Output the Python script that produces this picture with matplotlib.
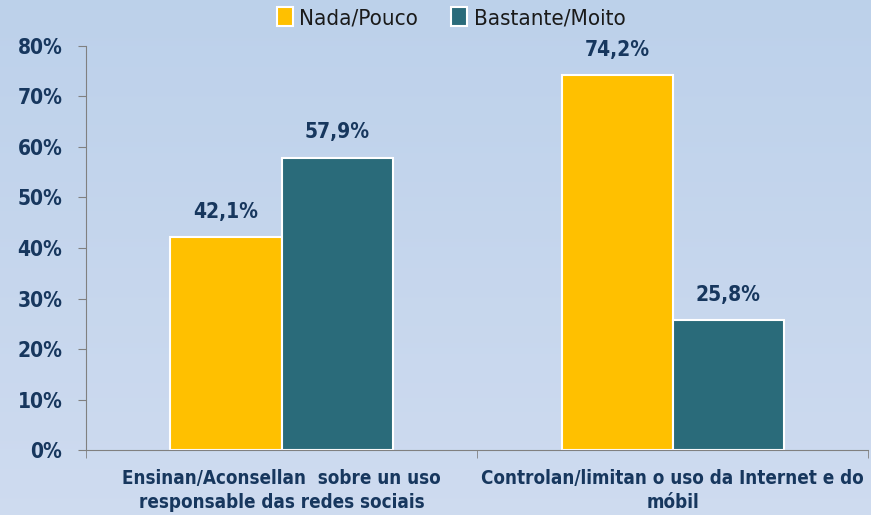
import numpy as np
import matplotlib.pyplot as plt

categories = ["Ensinan/Aconsellan  sobre un uso\nresponsable das redes sociais",
              "Controlan/limitan o uso da Internet e do\nmóbil"]
series_names = ["Nada/Pouco", "Bastante/Moito"]
nada = [42.1, 74.2]
bastante = [57.9, 25.8]
colors = ["#FFC000", "#2A6B7A"]

plt.rcParams['font.family'] = ['DejaVu Sans']
plt.rcParams['font.stretch'] = 'condensed'
text_col = "#17375E"

fig = plt.figure(figsize=(8.71, 5.15), dpi=100)
# background gradient
bg = fig.add_axes([0, 0, 1, 1], zorder=-10)
grad = np.linspace(0, 1, 256).reshape(-1, 1)
top = np.array([0.74, 0.82, 0.92])
bot = np.array([0.81, 0.86, 0.94])
img = top[None, None, :] * (1 - grad[:, :, None]) + bot[None, None, :] * grad[:, :, None]
bg.imshow(img, aspect='auto', extent=[0, 1, 0, 1])
bg.axis('off')

ax = fig.add_axes([0.0987, 0.1262, 0.898, 0.7845])
ax.patch.set_alpha(0)
x = np.arange(len(categories))
w = 0.284
b1 = ax.bar(x - w / 2, nada, w, color=colors[0], edgecolor="white", linewidth=1.5, label=series_names[0])
b2 = ax.bar(x + w / 2, bastante, w, color=colors[1], edgecolor="white", linewidth=1.5, label=series_names[1])
for bars, vals in [(b1, nada), (b2, bastante)]:
    for r, v in zip(bars, vals):
        ax.text(r.get_x() + r.get_width() / 2, v + 3, f"{v:.1f}%".replace(".", ","),
                ha="center", va="bottom", fontsize=15, fontweight="bold", color=text_col)

ax.set_ylim(0, 80)
ax.set_xlim(-0.5, 1.5)
ax.set_yticks(range(0, 81, 10))
ax.set_yticklabels([f"{v}%" for v in range(0, 81, 10)], fontsize=15, fontweight="bold", color=text_col)
ax.set_xticks(x)
ax.set_xticklabels(categories, fontsize=13.5, fontweight="bold", color=text_col, linespacing=1.3)
ax.tick_params(axis='x', length=0, pad=14)
ax.set_xticks([-0.5, 0.5, 1.5], minor=True)
ax.tick_params(axis='x', which='minor', length=6, color="#808080", direction='out')
ax.tick_params(axis='y', length=6, color="#808080", pad=11)
for s in ["top", "right"]:
    ax.spines[s].set_visible(False)
for s in ["left", "bottom"]:
    ax.spines[s].set_color("#808080")

fig.legend(handles=[b1, b2], labels=series_names, loc="upper center", bbox_to_anchor=(0.518, 1.025),
           ncol=2, frameon=False, fontsize=16, handlelength=0.7, handleheight=0.9,
           handletextpad=0.3, columnspacing=1.5, labelcolor="#1a1a1a")

fig.savefig("out.png", dpi=100)
